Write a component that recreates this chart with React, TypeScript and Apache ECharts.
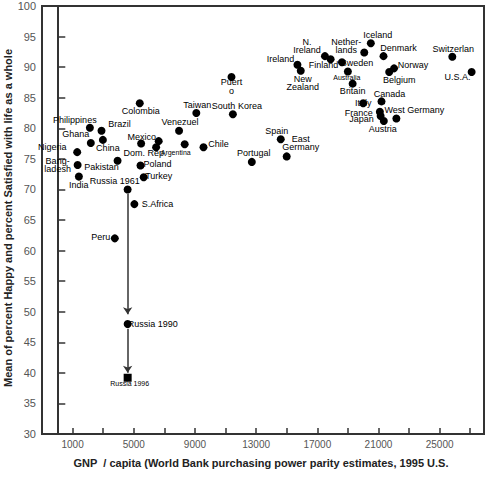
import { useEffect, useRef } from 'react';
import * as echarts from 'echarts';

// GNP per capita (1995 US$, PPP) and mean of % happy / % satisfied
const countries = [
  'Philippines', 'Brazil', 'Ghana', 'China', 'Nigeria', 'Bangladesh', 'Pakistan', 'India',
  'Colombia', 'Mexico', 'Dom. Rep.', 'Uruguay', 'Poland', 'Turkey', 'Russia 1961', 'S.Africa',
  'Peru', 'Russia 1990', 'Russia 1996', 'Venezuela', 'Argentina', 'Chile', 'Taiwan',
  'South Korea', 'Puerto Rico', 'Portugal', 'Spain', 'East Germany', 'Ireland', 'New Zealand',
  'N. Ireland', 'Finland', 'Netherlands', 'Iceland', 'Denmark', 'Sweden', 'Australia',
  'Britain', 'Norway', 'Belgium', 'Switzerland', 'U.S.A.', 'Italy', 'Canada', 'France',
  'Japan', 'Austria', 'West Germany'
];
const pointLabels = [
  'Philippines', 'Brazil', 'Ghana', 'China', 'Nigeria', 'Bang-\nladesh', 'Pakistan', 'India',
  'Colombia', 'Mexico', 'Dom. Rep.', '', 'Poland', 'Turkey', 'Russia 1961', 'S.Africa',
  'Peru', 'Russia 1990', 'Russia 1996', 'Venezuel', 'Argentina', 'Chile', 'Taiwan',
  'South Korea', 'Puert\no', 'Portugal', 'Spain', 'East\nGermany', 'Ireland', 'New\nZealand',
  'N.\nIreland', 'Finland', 'Nether-\nlands', 'Iceland', 'Denmark', 'Sweden', 'Australia',
  'Britain', 'Norway', 'Belgium', 'Switzerlan', 'U.S.A.', 'Italy', 'Canada', 'France',
  'Japan', 'Austria', 'West Germany'
];
const gnpPerCapita = [
  2130, 2890, 2190, 2980, 1300, 1330, 3940, 1410,
  5390, 6630, 5480, 6460, 5440, 5650, 4600, 5040,
  3760, 4600, 4600, 7960, 8330, 9560, 9090,
  11480, 11390, 12720, 14610, 15000, 15700, 15920,
  17500, 17870, 20070, 20500, 21330, 18610, 19000,
  19310, 22020, 21700, 25830, 27090, 20000, 21200, 21090,
  21140, 21350, 22170
];
const happiness = [
  80.1, 79.6, 77.6, 78.1, 76.1, 74.0, 74.7, 72.1,
  84.1, 77.9, 77.5, 76.9, 73.9, 72.0, 70.0, 67.6,
  62.0, 48.0, 39.2, 79.6, 77.4, 76.9, 82.5,
  82.3, 88.4, 74.5, 78.2, 75.4, 90.4, 89.4,
  91.8, 91.3, 92.4, 93.9, 91.8, 90.8, 89.3,
  87.3, 89.8, 89.2, 91.7, 89.2, 84.1, 84.4, 82.7,
  82.0, 81.2, 81.6
];
const xTickValues = [1000, 3000, 5000, 7000, 9000, 11000, 13000, 15000, 17000, 19000, 21000, 23000, 25000, 27000];
const xLabelValues = [1000, 5000, 9000, 13000, 17000, 21000, 25000];
// Russia trajectory arrows: [gnp, from, to]
const russiaArrows = [
  [4600, 69.3, 49.6],
  [4600, 47.2, 40.0]
];

// label centre offsets from the marker, in pixels
const labelOffset: Record<string, [number, number]> = {
  Philippines: [-15, -8], Brazil: [18, -7], Ghana: [-15, -9], China: [5, 8],
  Nigeria: [-25, -5], Bangladesh: [-20, 0], Pakistan: [-16, 6], India: [0, 8],
  Colombia: [1, 8], Mexico: [-17, -4], 'Dom. Rep.': [4, 9], Poland: [17, -2],
  Turkey: [15, -1], 'Russia 1961': [-13, -8], 'S.Africa': [23, 0], Peru: [-14, -1],
  'Russia 1990': [25, 0], 'Russia 1996': [2, 6], Venezuela: [1, -9], Argentina: [-9, 8],
  Chile: [15, -3], Taiwan: [1, -8], 'South Korea': [4, -8], 'Puerto Rico': [0, 10],
  Portugal: [2, -9], Spain: [-4, -8], 'East Germany': [14, -13], Ireland: [-17, -6],
  'New Zealand': [2, 12], 'N. Ireland': [-18, -10], Finland: [-7, 6], Netherlands: [-18, -6],
  Iceland: [7, -8], Denmark: [15, -8], Sweden: [15, 1], Australia: [-1, 6],
  Britain: [0, 7], Norway: [19, -3], Belgium: [10, 8], Canada: [8, -7],
  France: [-21, 1], Japan: [-19, 3], Austria: [-1, 8], 'West Germany': [18, -9],
  Switzerland: [1, -8], 'U.S.A.': [-14, 5]
};
const smallLabels = ['Argentina', 'Australia', 'Russia 1996'];

const FONT = 'Liberation Sans, Arial, sans-serif';

export default function App() {
  const ref = useRef<HTMLDivElement>(null);

  useEffect(() => {
    if (!ref.current) return;
    const chart = echarts.init(ref.current, null, { renderer: 'svg' });

    const points = countries.map((name, i) => ({
      name,
      value: [gnpPerCapita[i], happiness[i]],
      symbol: name === 'Russia 1996' ? 'rect' : 'circle',
      label: {
        show: pointLabels[i] !== '',
        formatter: pointLabels[i],
        position: 'inside',
        offset: labelOffset[name] || [0, 0],
        fontSize: smallLabels.includes(name) ? 7 : 9,
        lineHeight: name === 'Puerto Rico' ? 9 : 8,
        color: '#000',
        textBorderWidth: 0,
        textBorderColor: 'transparent',
        fontFamily: FONT
      }
    }));

    chart.setOption({
      animation: false,
      grid: {
        left: 42, right: 5, top: 6, bottom: 46,
        show: true, borderColor: '#333', borderWidth: 2
      },
      xAxis: {
        type: 'value',
        min: -1000,
        max: 27900,
        axisLine: { lineStyle: { color: '#333', width: 2 } },
        axisTick: { inside: true, length: 6, customValues: xTickValues, lineStyle: { color: '#333', width: 1.5 } },
        axisLabel: {
          customValues: xLabelValues, fontSize: 10, color: '#555', fontFamily: FONT, margin: 5,
          formatter: (v: number) => String(v)
        },
        splitLine: { show: false }
      },
      yAxis: {
        type: 'value',
        min: 30,
        max: 100,
        interval: 5,
        axisLine: { lineStyle: { color: '#333', width: 2 } },
        axisTick: { inside: true, length: 8, lineStyle: { color: '#333', width: 1.5 } },
        axisLabel: { fontSize: 11, color: '#555', fontFamily: FONT, margin: 6 },
        splitLine: { show: false }
      },
      graphic: [
        {
          type: 'text', x: 261, y: 463,
          style: {
            text: 'GNP  / capita (World Bank purchasing power parity estimates, 1995 U.S.',
            font: `bold 11px ${FONT}`, fill: '#222', align: 'center', verticalAlign: 'middle'
          }
        },
        {
          type: 'text', x: 8, y: 218, rotation: Math.PI / 2,
          style: {
            text: 'Mean of percent Happy and percent Satisfied with life as a whole',
            font: `bold 11px ${FONT}`, fill: '#222', align: 'center', verticalAlign: 'middle'
          }
        }
      ],
      series: [
        {
          type: 'scatter',
          symbolSize: 8,
          itemStyle: { color: '#000', opacity: 1 },
          data: points,
          markLine: {
            silent: true,
            symbol: ['none', 'arrow'],
            symbolSize: 7,
            label: { show: false },
            lineStyle: { color: '#333', width: 1.5, type: 'solid', opacity: 1 },
            data: russiaArrows.map(([x, y1, y2]) => [{ coord: [x, y1] }, { coord: [x, y2] }])
          }
        }
      ]
    });

    return () => chart.dispose();
  }, []);

  return (
    <div
      ref={ref}
      style={{ position: 'fixed', left: 0, top: 0, width: 489, height: 480, background: '#fff' }}
    />
  );
}
